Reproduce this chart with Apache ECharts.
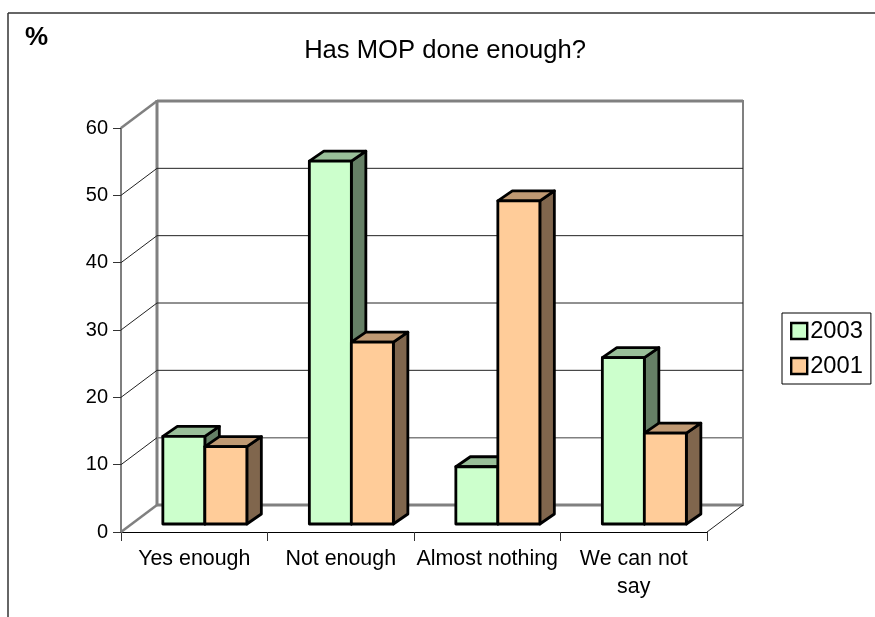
<!DOCTYPE html>
<html><head><meta charset="utf-8">
<style>html,body{margin:0;padding:0;background:#fff}#c{width:875px;height:617px}</style>
<script src="https://cdn.jsdelivr.net/npm/echarts@6/dist/echarts.min.js"></script>
</head><body><div id="c"></div>
<script>
const categories = ['Yes enough','Not enough','Almost nothing','We can not\nsay'];
const values2003 = [13, 53.9, 8.5, 24.7];
const values2001 = [11.5, 27, 48, 13.5];
const yTicks = [0,10,20,30,40,50,60];

const FONT = '"Liberation Sans", Arial, sans-serif';
const WALL_DX = 36, WALL_DY = 27;      // depth of the 3D box
const BASE_DX = 10.6, BASE_DY = 8;     // bar offset into the box
const BAR_DX = 14.5, BAR_DY = 10;      // depth of each bar
const BAR_W = 42;
const GRAY = '#808080';

function shade(c, k) {
  const n = parseInt(c.slice(1), 16);
  const f = s => Math.round(((n >> s) & 255) * k);
  return 'rgb(' + f(16) + ',' + f(8) + ',' + f(0) + ')';
}
function barItem(slot) {
  return function (params, api) {
    const base = api.coord([api.value(0), 0]);
    const top = api.coord([api.value(0), api.value(1)]);
    const x0 = base[0] + slot * BAR_W + BASE_DX;
    const x1 = x0 + BAR_W;
    const yb = base[1] - BASE_DY;
    const yt = top[1] - BASE_DY;
    const c = api.visual('color');
    const st = (fill) => ({ fill, stroke: '#000', lineWidth: 2.8, lineJoin: 'round' });
    return { type: 'group', children: [
      { type: 'polygon', shape: { points: [[x1,yb],[x1+BAR_DX,yb-BAR_DY],[x1+BAR_DX,yt-BAR_DY],[x1,yt]] }, style: st(shade(c,0.5)) },
      { type: 'polygon', shape: { points: [[x0,yt],[x0+BAR_DX,yt-BAR_DY],[x1+BAR_DX,yt-BAR_DY],[x1,yt]] }, style: st(shade(c,0.75)) },
      { type: 'rect', shape: { x: x0, y: yt, width: BAR_W, height: yb - yt }, style: st(c) }
    ]};
  };
}
function wallItem(params, api) {
  const v = api.value(1);
  const cs = params.coordSys;
  const y = api.coord([0, v])[1];
  const edge = v === 0 || v === yTicks[yTicks.length - 1];
  const x0 = cs.x, x1 = cs.x + cs.width;
  const backL = x0 + WALL_DX, backR = x1 + WALL_DX, by = y - WALL_DY;
  const col = edge || v === 10 ? GRAY : '#222';
  const kids = [
    { type: 'line', shape: { x1: x0, y1: y, x2: backL, y2: by }, style: { stroke: edge ? GRAY : '#222', lineWidth: edge ? 2.5 : 1 } },
    { type: 'line', shape: { x1: backL, y1: by, x2: backR, y2: by }, style: { stroke: col, lineWidth: edge ? 3 : (v === 10 ? 1.5 : 1) } }
  ];
  if (v === 0) {
    const topY = api.coord([0, yTicks[yTicks.length - 1]])[1] - WALL_DY;
    kids.push({ type: 'line', shape: { x1: backL, y1: by + 1, x2: backL, y2: topY - 1 }, style: { stroke: GRAY, lineWidth: 3 } });
    kids.push({ type: 'line', shape: { x1: backR, y1: by + 1, x2: backR, y2: topY - 1 }, style: { stroke: GRAY, lineWidth: 2 } });
    kids.push({ type: 'line', shape: { x1: x1, y1: y, x2: backR, y2: by }, style: { stroke: '#222', lineWidth: 1 } });
  }
  return { type: 'group', children: kids };
}

const chart = echarts.init(document.getElementById('c'), null, { renderer: 'canvas' });
chart.setOption({
  animation: false,
  backgroundColor: '#fff',
  textStyle: { fontFamily: FONT },
  title: [
    { text: 'Has MOP done enough?', left: 440, top: 33, textAlign: 'center',
      textStyle: { fontFamily: FONT, fontSize: 25.6, fontWeight: 'normal', color: '#000' } },
    { text: '%', left: 20, top: 20,
      textStyle: { fontFamily: FONT, fontSize: 26, fontWeight: 'bold', color: '#000' } }
  ],
  legend: {
    data: ['2003','2001'], orient: 'vertical', left: 782, top: 313,
    padding: [6, 8, 6, 8], itemGap: 11, itemWidth: 16, itemHeight: 16,
    icon: 'rect', borderColor: '#000', borderWidth: 1, backgroundColor: '#fff',
    textStyle: { fontFamily: FONT, fontSize: 23.7, color: '#000', padding: [2,0,0,-2] },
    itemStyle: { borderColor: '#000', borderWidth: 2.4 }
  },
  grid: { left: 121, right: 168, top: 128, bottom: 85, containLabel: false },
  xAxis: {
    type: 'category', data: categories,
    axisLine: { lineStyle: { color: '#000', width: 1 } },
    axisTick: { show: true, alignWithLabel: false, length: 9, lineStyle: { color: '#333', width: 1 } },
    axisLabel: { interval: 0, margin: 13, fontFamily: FONT, fontSize: 21.4, color: '#000', lineHeight: 28 }
  },
  yAxis: {
    type: 'value', min: 0, max: 60, interval: 10,
    splitLine: { show: false },
    axisLine: { show: true, lineStyle: { color: '#555', width: 1.5 } },
    axisTick: { show: true, length: 8, lineStyle: { color: '#333', width: 1 } },
    axisLabel: { margin: 13, fontFamily: FONT, fontSize: 20, color: '#000', padding: [2,0,0,0] }
  },
  series: [
    { type: 'custom', name: 'wall', silent: true, z: 1, clip: false, renderItem: wallItem,
      data: yTicks.map(v => [0, v]), encode: { x: 0, y: 1 } },
    { type: 'custom', name: '2003', z: 2, clip: false, renderItem: barItem(-1),
      itemStyle: { color: '#CCFFCC' }, encode: { x: 0, y: 1 },
      data: values2003.map((v, i) => [i, v]) },
    { type: 'custom', name: '2001', z: 3, clip: false, renderItem: barItem(0),
      itemStyle: { color: '#FFCC99' }, encode: { x: 0, y: 1 },
      data: values2001.map((v, i) => [i, v]) }
  ],
  graphic: [
    { type: 'line', shape: { x1: 8, y1: 13, x2: 875, y2: 13 }, style: { stroke: '#333', lineWidth: 1.5 } },
    { type: 'line', shape: { x1: 8, y1: 13, x2: 8, y2: 617 }, style: { stroke: '#333', lineWidth: 1.5 } }
  ]
});
</script></body></html>
